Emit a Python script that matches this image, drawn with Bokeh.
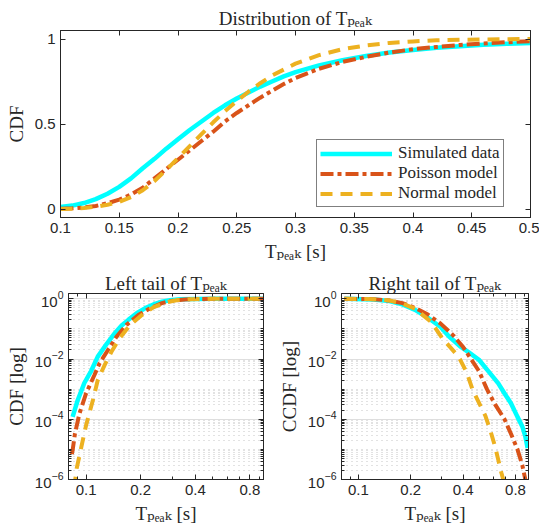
from bokeh.plotting import figure
from bokeh.layouts import column, row
from bokeh.models import FixedTicker, LinearAxis, Range1d
from bokeh.embed import file_html
from bokeh.resources import INLINE

# ---------------- data ----------------
series_names = ["Simulated data", "Poisson model", "Normal model"]

# Top panel: CDF on linear axes
top_x = [0.10, 0.11, 0.12, 0.13, 0.14, 0.15, 0.16, 0.17, 0.18, 0.19, 0.20,
         0.21, 0.22, 0.23, 0.24, 0.25, 0.26, 0.27, 0.28, 0.29, 0.30,
         0.32, 0.34, 0.36, 0.38, 0.40, 0.42, 0.44, 0.46, 0.48, 0.50]
top_sim = [0.012, 0.02, 0.035, 0.058, 0.09, 0.13, 0.18, 0.24, 0.295, 0.355, 0.41,
           0.465, 0.515, 0.565, 0.61, 0.65, 0.685, 0.72, 0.75, 0.78, 0.805,
           0.845, 0.875, 0.90, 0.92, 0.935, 0.948, 0.958, 0.966, 0.972, 0.977]
top_poi = [0.001, 0.004, 0.009, 0.018, 0.034, 0.055, 0.085, 0.125, 0.18, 0.235, 0.29,
           0.345, 0.40, 0.455, 0.515, 0.565, 0.61, 0.655, 0.695, 0.735, 0.77,
           0.825, 0.865, 0.895, 0.92, 0.94, 0.953, 0.965, 0.974, 0.981, 0.987]
top_nor = [0.0, 0.002, 0.006, 0.013, 0.025, 0.042, 0.07, 0.11, 0.165, 0.23, 0.30,
           0.37, 0.44, 0.51, 0.575, 0.635, 0.69, 0.74, 0.785, 0.82, 0.855,
           0.905, 0.94, 0.962, 0.977, 0.986, 0.992, 0.995, 0.997, 0.999, 1.0]

# Bottom-left panel: CDF on log-log axes (left tail)
left_sim_x = [0.0843, 0.0899, 0.0978, 0.1066, 0.116, 0.13, 0.144, 0.157, 0.171, 0.19,
              0.212, 0.235, 0.262, 0.29, 0.33, 0.40, 0.50, 0.60, 0.70, 0.80, 0.95]
left_sim_y = [1.2e-4, 4.3e-4, 1.6e-3, 4e-3, 0.012, 0.032, 0.072, 0.13, 0.20, 0.33,
              0.49, 0.65, 0.80, 0.90, 0.96, 0.99, 0.997, 0.999, 1.0, 1.0, 1.0]
left_poi_x = [0.0835, 0.0843, 0.0868, 0.0918, 0.10, 0.111, 0.1186, 0.132, 0.147, 0.167,
              0.194, 0.226, 0.262, 0.30, 0.35, 0.40, 0.50, 0.60, 0.70, 0.80, 0.95]
left_poi_y = [7e-6, 9.3e-6, 3.3e-5, 1.5e-4, 7.2e-4, 2.9e-3, 7.2e-3, 0.02, 0.055, 0.136,
              0.29, 0.49, 0.72, 0.87, 0.95, 0.98, 0.995, 0.999, 1.0, 1.0, 1.0]
left_nor_x = [0.086, 0.0875, 0.0887, 0.0937, 0.10, 0.109, 0.116, 0.1265, 0.138, 0.153,
              0.175, 0.203, 0.236, 0.274, 0.32, 0.38, 0.50, 0.60, 0.70, 0.80, 0.95]
left_nor_y = [5e-7, 1.2e-6, 2.3e-6, 1.05e-5, 6.3e-5, 4.3e-4, 2e-3, 6.3e-3, 0.0175, 0.049,
              0.136, 0.29, 0.53, 0.75, 0.91, 0.975, 0.999, 1.0, 1.0, 1.0, 1.0]

# Bottom-right panel: CCDF on log-log axes (right tail)
right_sim_x = [0.083, 0.122, 0.151, 0.179, 0.212, 0.251, 0.297, 0.331, 0.383, 0.435,
               0.493, 0.561, 0.637, 0.692, 0.753, 0.821, 0.875, 0.911, 0.939]
right_sim_y = [1.0, 0.95, 0.84, 0.65, 0.43, 0.235, 0.116, 0.057, 0.027, 0.016,
               0.0095, 0.0038, 0.00155, 7.2e-4, 3.4e-4, 1.2e-4, 5.8e-5, 2.7e-5, 1.1e-5]
right_poi_x = [0.083, 0.122, 0.151, 0.179, 0.212, 0.251, 0.297, 0.352, 0.40, 0.444,
               0.493, 0.548, 0.609, 0.692, 0.753, 0.821, 0.875, 0.911, 0.93]
right_poi_y = [1.0, 0.975, 0.88, 0.72, 0.50, 0.30, 0.15, 0.06, 0.025, 0.01,
               4e-3, 1e-3, 3.2e-4, 1e-4, 3.3e-5, 1e-5, 3e-6, 1e-6, 3e-7]
right_nor_x = [0.083, 0.122, 0.151, 0.179, 0.212, 0.262, 0.303, 0.36, 0.383, 0.42,
               0.454, 0.50, 0.537, 0.575, 0.609, 0.64, 0.663, 0.68, 0.70]
right_nor_y = [1.0, 0.975, 0.88, 0.70, 0.47, 0.17, 0.05, 0.016, 0.01, 3.5e-3,
               9.3e-4, 3e-4, 1.3e-4, 4e-5, 1.3e-5, 4e-6, 1.7e-6, 1e-6, 4e-7]

# ticks
top_xticks = [0.1, 0.15, 0.2, 0.25, 0.3, 0.35, 0.4, 0.45, 0.5]
top_xtick_labels = ["0.1", "0.15", "0.2", "0.25", "0.3", "0.35", "0.4", "0.45", "0.5"]
top_yticks = [0, 0.5, 1]
top_ytick_labels = ["0", "0.5", "1"]
tail_xticks = [0.1, 0.2, 0.4, 0.8]
tail_xtick_labels = ["0.1", "0.2", "0.4", "0.8"]
tail_xminor = [0.08, 0.09, 0.3, 0.5, 0.6, 0.7, 0.9]
tail_yticks = [1e-6, 1e-4, 1e-2, 1.0]          # labelled as powers of ten: 10^-6 ... 10^0
tail_yminor = [m * 10.0 ** e for e in range(-6, 0) for m in range(1, 10)]

PEAK = "T\u209a\u2091\u2090\u2096"
titles = ["Distribution of " + PEAK, "Left tail of " + PEAK, "Right tail of " + PEAK]
xlabel = PEAK + " [s]"
ylabels = ["CDF", "CDF [log]", "CCDF [log]"]

# ---------------- style ----------------
C_SIM, C_POI, C_NOR = "#00FFFF", "#D95319", "#EDB120"
AX = "#262626"
SERIF = "'Liberation Serif', 'DejaVu Serif', serif"
SANS = "'Liberation Sans', 'DejaVu Sans', sans-serif"


def axis_style(ax, show_labels=True):
    ax.axis_line_color = AX
    ax.axis_line_width = 1
    ax.major_tick_line_color = AX
    ax.minor_tick_line_color = AX
    ax.major_tick_in = 5
    ax.major_tick_out = 0
    ax.minor_tick_in = 3
    ax.minor_tick_out = 0
    ax.major_label_text_font = SANS
    ax.axis_label_text_font = SERIF
    ax.axis_label_text_font_size = "19px"
    ax.axis_label_text_font_style = "normal"
    ax.axis_label_text_color = AX
    if show_labels:
        ax.major_label_text_color = AX
        ax.major_label_text_font_size = "15px"
        ax.major_label_standoff = 5
        ax.axis_label_standoff = 5
    else:
        ax.major_label_text_color = None
        ax.major_label_text_alpha = 0
        ax.major_label_text_font_size = "1px"
        ax.major_label_standoff = 0


def finish(p, xt, xl, xminor, yt, yl, yminor, title, ylab, title_standoff):
    p.title.text = title
    p.title.text_font = SERIF
    p.title.text_font_size = "19px"
    p.title.text_font_style = "normal"
    p.title.text_color = AX
    p.title.align = "center"
    p.title.standoff = title_standoff
    p.outline_line_color = AX
    p.outline_line_width = 1
    xtick = FixedTicker(ticks=xt, minor_ticks=xminor)
    ytick = FixedTicker(ticks=yt, minor_ticks=yminor)
    p.xaxis.ticker = xtick
    p.yaxis.ticker = ytick
    p.xaxis.major_label_overrides = dict(zip(xt, xl))
    if yl is not None:
        p.yaxis.major_label_overrides = dict(zip(yt, yl))
    p.xaxis.axis_label = xlabel
    p.yaxis.axis_label = ylab
    for ax in p.xaxis + p.yaxis:
        axis_style(ax)
    top_ax = LinearAxis(ticker=xtick)
    right_ax = LinearAxis(ticker=ytick)
    axis_style(top_ax, False)
    axis_style(right_ax, False)
    p.add_layout(top_ax, "above")
    p.add_layout(right_ax, "right")


# ---------------- top panel ----------------
p1 = figure(width=539, height=265, x_range=Range1d(0.1, 0.5), y_range=Range1d(-0.05, 1.05),
            output_backend="svg", toolbar_location=None,
            min_border_left=60, min_border_right=9, min_border_top=30, min_border_bottom=48)
p1.grid.visible = False
p1.line(top_x, top_sim, line_color=C_SIM, line_width=4.5, legend_label=series_names[0])
p1.line(top_x, top_poi, line_color=C_POI, line_width=4, line_dash="13 4 4 4",
        legend_label=series_names[1])
p1.line(top_x, top_nor, line_color=C_NOR, line_width=4, line_dash="12 8",
        legend_label=series_names[2])
finish(p1, top_xticks, top_xtick_labels, [], top_yticks, top_ytick_labels, [],
       titles[0], ylabels[0], 4)
lg = p1.legend[0]
lg.location = (256, 10)
lg.border_line_color = "black"
lg.border_line_width = 1
lg.background_fill_color = "white"
lg.background_fill_alpha = 1
lg.label_text_font = SERIF
lg.label_text_font_size = "17px"
lg.label_text_color = AX
lg.glyph_width = 72
lg.glyph_height = 17
lg.label_height = 17
lg.spacing = 0
lg.padding = 3
lg.margin = 0
lg.label_standoff = 6


# ---------------- tail panels ----------------
def tail_fig(width, bl, br, data, title, ylab):
    p = figure(width=width, height=262, x_axis_type="log", y_axis_type="log",
               x_range=Range1d(0.08, 0.95), y_range=Range1d(1e-6, 1.5),
               output_backend="svg", toolbar_location=None,
               min_border_left=bl, min_border_right=br, min_border_top=28, min_border_bottom=48)
    p.xgrid.visible = False
    p.ygrid.grid_line_color = "#dedede"
    p.ygrid.grid_line_width = 1
    p.ygrid.minor_grid_line_color = "#c4c4c4"
    p.ygrid.minor_grid_line_width = 1
    p.ygrid.minor_grid_line_dash = "1 4"
    (sx, sy), (px, py), (nx, ny) = data
    p.line(sx, sy, line_color=C_SIM, line_width=4.5)
    p.line(px, py, line_color=C_POI, line_width=4, line_dash="13 4 4 4")
    p.line(nx, ny, line_color=C_NOR, line_width=4, line_dash="12 8")
    finish(p, tail_xticks, tail_xtick_labels, tail_xminor, tail_yticks, None,
           tail_yminor, title, ylab, 0)
    return p


p2 = tail_fig(275, 68, 12, [(left_sim_x, left_sim_y), (left_poi_x, left_poi_y),
                            (left_nor_x, left_nor_y)], titles[1], ylabels[1])
p3 = tail_fig(264, 58, 11, [(right_sim_x, right_sim_y), (right_poi_x, right_poi_y),
                            (right_nor_x, right_nor_y)], titles[2], ylabels[2])

layout = column(p1, row(p2, p3))
open("out.html", "w").write(file_html(layout, INLINE))
